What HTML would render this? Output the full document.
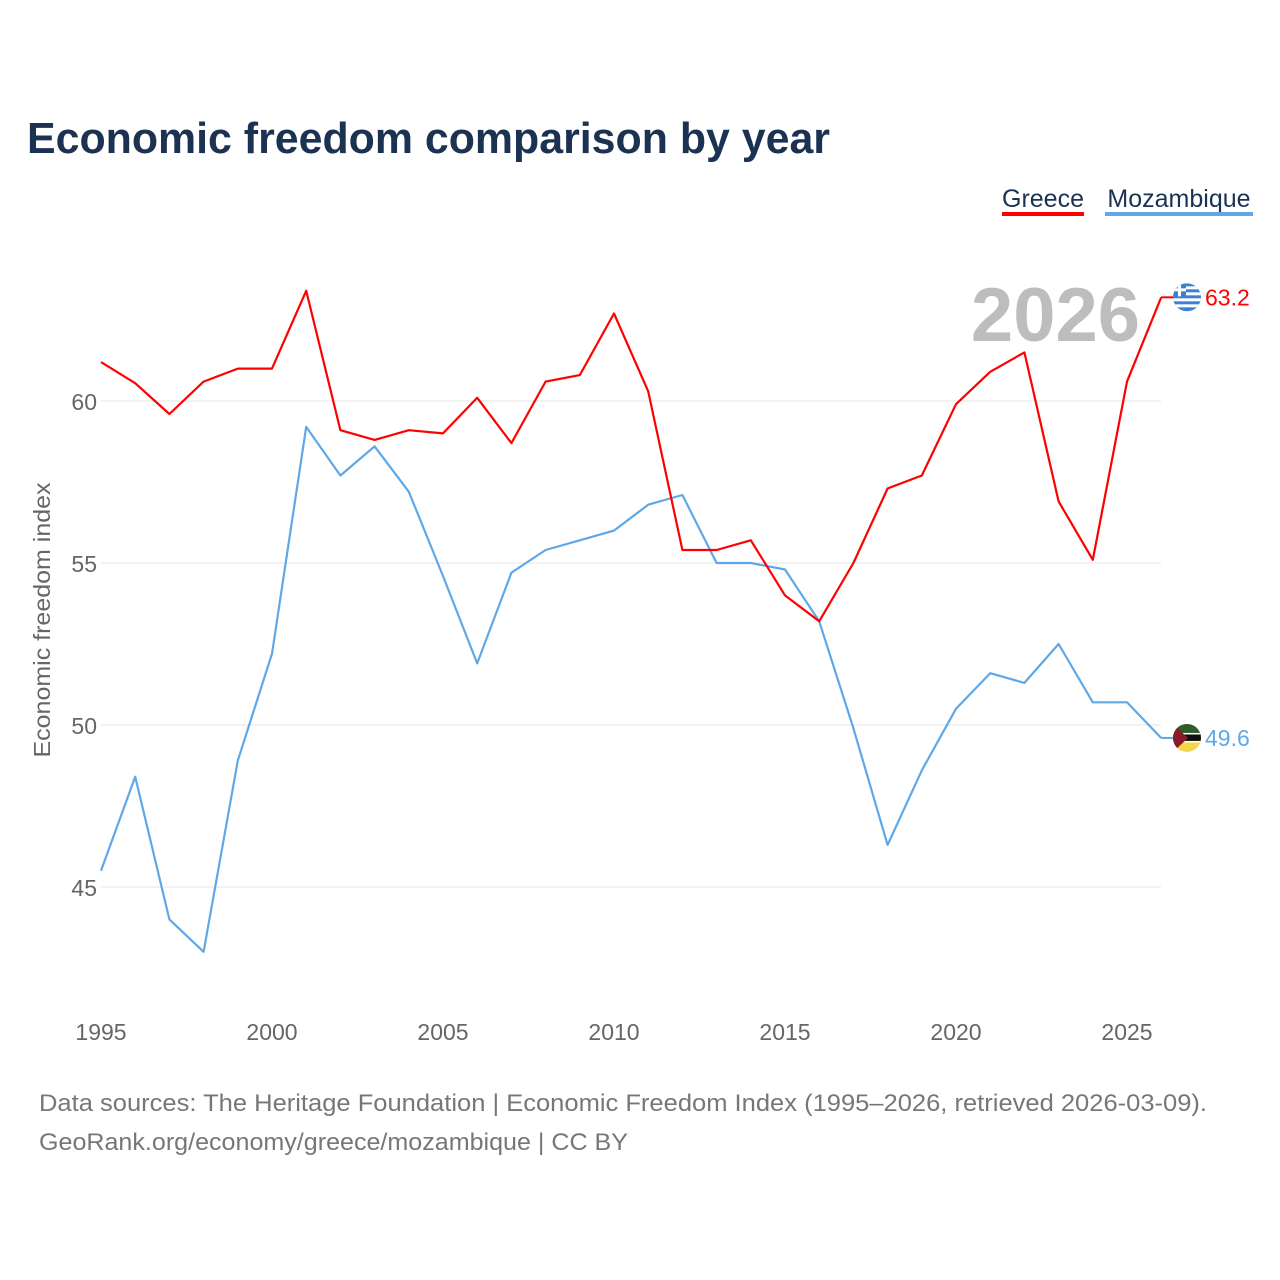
<!DOCTYPE html>
<html><head><meta charset="utf-8"><style>
html,body{margin:0;padding:0;background:#fff;}
body{width:1280px;height:1280px;position:relative;font-family:"Liberation Sans",sans-serif;}
</style></head><body>
<svg id="chart" width="1280" height="1280" xmlns="http://www.w3.org/2000/svg" style="position:absolute;left:0;top:0">
<defs>
<clipPath id="clipG"><circle cx="1187" cy="297" r="14"/></clipPath>
<clipPath id="clipM"><circle cx="1187" cy="737" r="14"/></clipPath>
</defs>
<text x="27" y="153" font-size="44" font-weight="bold" fill="#1b3252" textLength="803" lengthAdjust="spacingAndGlyphs">Economic freedom comparison by year</text>
<g>
<text x="1043" y="207" font-size="25" fill="#1b3252" text-anchor="middle">Greece</text>
<rect x="1002" y="212" width="82" height="4" fill="#ff0000"/>
<text x="1179" y="207" font-size="25" fill="#1b3252" text-anchor="middle">Mozambique</text>
<rect x="1105" y="212" width="148" height="4" fill="#5fa8e8"/>
</g>
<text x="1140" y="341" font-size="76" font-weight="bold" fill="#bdbdbd" text-anchor="end">2026</text>
<text transform="translate(50,620) rotate(-90)" font-size="23" fill="#666" text-anchor="middle" textLength="275" lengthAdjust="spacingAndGlyphs">Economic freedom index</text>
<g id="grid"></g><g id="xticks"></g><g id="series"></g>
<text x="39" y="1111" font-size="24" fill="#777" textLength="1168" lengthAdjust="spacingAndGlyphs">Data sources: The Heritage Foundation | Economic Freedom Index (1995–2026, retrieved 2026-03-09).</text>
<text x="39" y="1150" font-size="24" fill="#777" textLength="589" lengthAdjust="spacingAndGlyphs">GeoRank.org/economy/greece/mozambique | CC BY</text>
</svg>
<script>
const years=[1995,1996,1997,1998,1999,2000,2001,2002,2003,2004,2005,2006,2007,2008,2009,2010,2011,2012,2013,2014,2015,2016,2017,2018,2019,2020,2021,2022,2023,2024,2025,2026];
const greece=[61.2,60.55,59.6,60.6,61.0,61.0,63.4,59.1,58.8,59.1,59.0,60.1,58.7,60.6,60.8,62.7,60.3,55.4,55.4,55.7,54.0,53.2,55.0,57.3,57.7,59.9,60.9,61.5,56.9,55.1,60.6,63.2];
const mozambique=[45.5,48.4,44.0,43.0,48.9,52.2,59.2,57.7,58.6,57.2,54.6,51.9,54.7,55.4,55.7,56.0,56.8,57.1,55.0,55.0,54.8,53.2,49.9,46.3,48.6,50.5,51.6,51.3,52.5,50.7,50.7,49.6];
const yTicks=[45,50,55,60];
const xTicks=[1995,2000,2005,2010,2015,2020,2025];
const NS="http://www.w3.org/2000/svg";
const x=v=>101+(v-1995)*(1127-101)/30;
const y=v=>401+(60-v)*(887-401)/15;
function mk(t,a,p){const e=document.createElementNS(NS,t);for(const k in a)e.setAttribute(k,a[k]);p.appendChild(e);return e;}
const grid=document.getElementById('grid');
yTicks.forEach(t=>{
 const l=mk('line',{x1:101,x2:1161,y1:y(t),y2:y(t),stroke:'#e6e6e6','stroke-width':1},grid);
 
 
 const tx=mk('text',{x:97,y:y(t)+9,'font-size':23,fill:'#666','text-anchor':'end'},grid);
 tx.textContent=t;
 
 
});
const xt=document.getElementById('xticks');
xTicks.forEach(t=>{
 const tx=mk('text',{x:x(t),y:1040,'font-size':23,fill:'#666','text-anchor':'middle'},xt);
 tx.textContent=t;
 
 
});
const s=document.getElementById('series');
function line(vals,color,name){
 const d=vals.map((v,i)=>(i?'L':'M')+x(years[i]).toFixed(1)+','+y(v).toFixed(1)).join('');
 const p=mk('path',{d:d,fill:'none',stroke:color,'stroke-width':2.2,'stroke-linejoin':'round'},s);
 
 
 const lv=vals[vals.length-1], ly=y(lv), lx=x(years[years.length-1]);
 const seg=mk('line',{x1:lx,x2:lx+12,y1:ly,y2:ly,stroke:color,'stroke-width':2},s);
 
 
 const cid=name==='greece'?'clipG':'clipM';
 document.querySelector('#'+cid+' circle').setAttribute('cy',ly);
 const g=mk('g',{'clip-path':'url(#'+cid+')'},s);
 
 
 if(name==='greece'){
  mk('rect',{x:1173,y:ly-14,width:28,height:28,fill:'#3b82d6'},g);
  for(let k=0;k<4;k++)mk('rect',{x:1173,y:ly-11+k*6,width:28,height:3,fill:'#fff'},g);
  mk('rect',{x:1173,y:ly-14,width:13,height:13,fill:'#3b82d6'},g);
  mk('rect',{x:1173,y:ly-9,width:13,height:3,fill:'#fff'},g);
  mk('rect',{x:1178,y:ly-14,width:3,height:13,fill:'#fff'},g);
 } else {
  mk('rect',{x:1173,y:ly-14,width:28,height:28,fill:'#f4d64a'},g);
  mk('rect',{x:1173,y:ly-14,width:28,height:11,fill:'#2f5d2a'},g);
  mk('rect',{x:1173,y:ly-4,width:28,height:7,fill:'#111'},g);
  mk('rect',{x:1173,y:ly-5,width:28,height:1.5,fill:'#fff'},g);
  mk('rect',{x:1173,y:ly+3,width:28,height:1.5,fill:'#fff'},g);
  mk('path',{d:`M1173,${ly-14} L1188,${ly} L1173,${ly+14}z`,fill:'#8b1a2a'},g);
 }
 const t=mk('text',{x:1205,y:ly+8,'font-size':23,fill:color},s);
 t.textContent=lv.toFixed(1);
 
 
}
line(mozambique,'#5fa8e8','mozambique');
line(greece,'#ff0000','greece');
</script>
</body></html>
